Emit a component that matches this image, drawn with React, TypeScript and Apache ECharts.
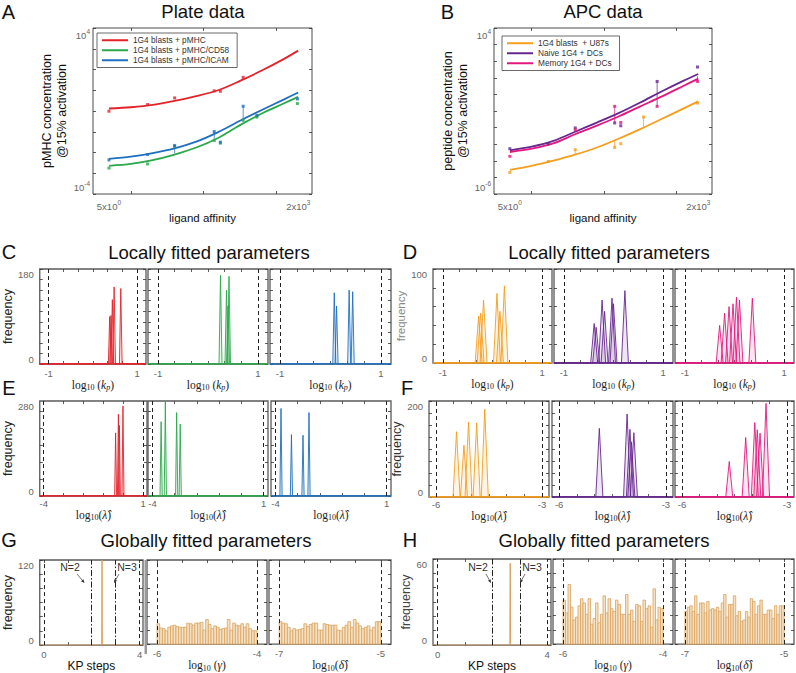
import React, { useEffect, useRef } from "react";
import * as echarts from "echarts";

const SANS = "'Liberation Sans', Arial, Helvetica, sans-serif";
const SERIF = "'Liberation Serif', 'DejaVu Serif', serif";

const RED = "#e4222a";
const GREEN = "#2aa84a";
const BLUE = "#1e6fc0";
const ORANGE = "#f59d1c";
const PURPLE = "#66278f";
const PINK = "#e3177f";
const BAR_FILL = "#f5e1c3";
const BAR_EDGE = "#dba35f";

// ---------- Panel A: plate data (ligand affinity vs log10 pMHC concentration @15% activation)
const plateRedX = [5, 17, 40, 140, 170, 350];
const plateRedY = [-0.01, 0.31, 0.63, 0.97, 0.95, 1.62];
const plateGreenX = [5, 17, 40, 140, 170, 350, 540, 1950];
const plateGreenY = [-2.75, -2.55, -1.71, -1.42, -1.55, -0.45, -0.29, 0.36];
const plateBlueX = [5, 17, 40, 140, 170, 350, 540, 1950];
const plateBlueY = [-2.36, -2.1, -1.66, -0.99, -1.5, 0.23, -0.21, 0.58];
// fitted curves, read at log10(affinity) = 0.7, 1.0, ... 3.3
const fitLogX = [0.7, 1.0, 1.3, 1.6, 1.9, 2.2, 2.5, 2.8, 3.1, 3.3];
const plateRedFit = [0.12, 0.18, 0.29, 0.49, 0.72, 1.0, 1.45, 1.95, 2.5, 2.91];
const plateGreenFit = [-2.64, -2.55, -2.37, -2.1, -1.76, -1.3, -0.68, -0.12, 0.36, 0.68];
const plateBlueFit = [-2.31, -2.2, -2.03, -1.8, -1.48, -1.02, -0.47, 0.05, 0.55, 0.89];
const plateBlueErr = [[40, -2.05, -1.66], [140, -1.35, -0.99], [350, -0.45, 0.23], [540, -0.35, -0.21]];
const plateNames = ["1G4 blasts + pMHC", "1G4 blasts + pMHC/CD58", "1G4 blasts + pMHC/ICAM"];

// ---------- Panel B: APC data (log10 peptide concentration)
const apcOrangeX = [5, 17, 40, 140, 170, 350, 1950];
const apcOrangeY = [-4.7, -4.04, -3.33, -3.19, -2.97, -1.36, -0.52];
const apcPurpleX = [5, 17, 40, 140, 170, 540, 1950];
const apcPurpleY = [-3.27, -2.97, -2.02, -1.72, -1.89, 0.78, 1.65];
const apcPinkX = [5, 40, 140, 170, 540, 1950];
const apcPinkY = [-3.73, -2.13, -0.72, -1.69, -0.72, 0.78];
const apcOrangeFit = [-4.54, -4.3, -3.99, -3.63, -3.2, -2.67, -2.09, -1.47, -0.84, -0.42];
const apcPurpleFit = [-3.37, -3.15, -2.8, -2.25, -1.7, -1.13, -0.49, 0.19, 0.83, 1.23];
const apcPinkFit = [-3.47, -3.27, -2.95, -2.4, -1.88, -1.33, -0.72, -0.12, 0.52, 0.95];
const apcOrangeErr = [[40, -3.6, -3.33], [140, -3.19, -2.75], [350, -2.0, -1.36]];
const apcPurpleErr = [[540, -0.72, 0.78]];
const apcPinkErr = [[140, -1.72, -0.72], [1950, 0.78, 1.1]];
const apcNames = ["1G4 blasts  + U87s", "Naive 1G4 + DCs", "Memory 1G4 + DCs"];

// ---------- Histogram peaks [centre, frequency]
const cRed = [[0.38, 90], [0.41, 92], [0.44, 122], [0.48, 146], [0.63, 143]];
const cGreen = [[0.25, 168], [0.37, 140], [0.4, 110], [0.42, 166]];
const cBlue = [[0.075, 135], [0.12, 110], [0.37, 140], [0.44, 137]];
const dOrange = [[-0.28, 50], [-0.24, 53], [-0.18, 67], [0.09, 74], [0.15, 55], [0.24, 82]];
const dPurple = [[-0.39, 42], [-0.35, 38], [-0.23, 67], [-0.18, 55], [-0.03, 69], [0.0, 63], [0.23, 77]];
const dPink = [[-0.3, 40], [-0.2, 53], [-0.11, 60], [-0.03, 63], [0.04, 70], [0.1, 67], [0.36, 69]];
const eRed = [[-0.38, 186], [-0.24, 241], [-0.19, 208], [-0.01, 265]];
const eGreen = [[-3.61, 219], [-3.42, 278], [-2.91, 246], [-2.75, 212]];
const eBlue = [[-3.75, 258], [-3.28, 181], [-2.76, 179], [-2.49, 246]];
const fOrange = [[-5.42, 136], [-5.21, 108], [-5.08, 156], [-4.85, 154], [-4.62, 183]];
const fPurple = [[-4.87, 143], [-4.09, 173], [-4.01, 141], [-3.97, 115], [-3.9, 134]];
const fPink = [[-4.65, 74], [-4.18, 124], [-3.92, 155], [-3.85, 140], [-3.77, 133], [-3.6, 195]];
const gKp = [[2.43, 120]];
const hKp = [[2.65, 57]];

// ---------- Global parameter histograms (bin heights, evenly spaced over the prior range)
const gGamma = [29, 23, 22, 19, 24, 26, 27, 25, 24, 24, 24, 30, 29, 27, 30, 30, 31, 20, 35, 28, 22, 26, 24, 21, 22, 23, 35, 20, 30, 27, 26, 29, 24, 29, 22, 19, 19];
const gDelta = [32, 30, 29, 24, 19, 22, 20, 21, 22, 29, 25, 28, 30, 30, 20, 20, 29, 28, 27, 27, 27, 20, 19, 24, 27, 32, 24, 35, 30, 26, 22, 24, 26, 20, 24, 32, 32];
const hGamma = [31, 22, 42, 26, 17, 19, 27, 32, 29, 21, 32, 14, 18, 29, 15, 21, 34, 22, 32, 25, 23, 31, 28, 21, 21, 35, 21, 24, 16, 28, 27, 16, 31, 25, 27, 12, 39, 17, 26, 25];
const hDelta = [23, 26, 27, 23, 34, 21, 29, 29, 22, 30, 24, 25, 24, 26, 23, 29, 35, 19, 28, 28, 34, 20, 23, 16, 17, 23, 19, 32, 30, 21, 27, 31, 21, 21, 24, 24, 18, 27, 21, 27, 27];

// ---------- Layout (px boxes: left, top, width, height)
const BOX: any = {
  A: [93, 28, 219, 166],
  B: [494, 28, 218, 166],
  C: [[26, 269, 120, 95], [148, 269, 120, 95], [270, 269, 121, 95]],
  D: [[433, 269, 119, 94], [554, 269, 119, 94], [675, 269, 119, 94]],
  E: [[26, 401, 121, 95], [148, 401, 120, 95], [271, 401, 120, 95]],
  F: [[429, 401, 120, 96], [552, 401, 121, 96], [675, 401, 119, 96]],
  G: [[26, 560, 117, 94], [147, 560, 120, 94], [269, 560, 122, 94]],
  H: [[433, 559, 118, 95], [553, 559, 120, 95], [675, 559, 119, 95]],
};

function rgba(hex: string, a: number) {
  const n = parseInt(hex.slice(1), 16);
  return `rgba(${(n >> 16) & 255},${(n >> 8) & 255},${n & 255},${a})`;
}

const richPow = {
  b: { fontSize: 9.5, color: "#666", fontFamily: SANS },
  s: { fontSize: 6.5, color: "#666", fontFamily: SANS, padding: [0, 0, 7, 0] },
};
const richMath = {
  t: { fontFamily: SERIF, fontSize: 11.5, color: "#222" },
  s: { fontFamily: SERIF, fontSize: 8, color: "#222", padding: [6, 0, 0, 0] },
  i: { fontFamily: SERIF, fontStyle: "italic", fontSize: 11.5, color: "#222" },
  is: { fontFamily: SERIF, fontStyle: "italic", fontSize: 8, color: "#222", padding: [6, 0, 0, 0] },
};
const KP_NAME = "{t|log}{s|10}{t| (}{i|k}{is|p}{t|)}";
const LAM_NAME = "{t|log}{s|10}{t|(}{i|λ̂}{t|)}";
const GAM_NAME = "{t|log}{s|10}{t| (}{i|γ}{t|)}";
const DEL_NAME = "{t|log}{s|10}{t|(}{i|δ̂}{t|)}";

function makeAxis(gi: number, s: any, position: string, main: boolean) {
  const a: any = {
    type: "value",
    gridIndex: gi,
    position,
    min: s.min,
    max: s.max,
    axisLine: { show: false, onZero: false },
    splitLine: { show: false },
    axisTick: { show: true, inside: true, length: 3, customValues: s.ticks, lineStyle: { color: "#333", width: 0.8 } },
    axisLabel: { show: false },
  };
  if (main) {
    if (s.labels)
      a.axisLabel = {
        show: true,
        customValues: s.labels,
        formatter: s.fmt || ((v: number) => String(v)),
        margin: s.margin ?? 4,
        color: "#666",
        fontSize: 9.5,
        fontFamily: SANS,
        rich: s.rich,
        showMinLabel: true,
        showMaxLabel: true,
        hideOverlap: false,
        verticalAlignMinLabel: s.vMin,
        verticalAlignMaxLabel: s.vMax,
      };
    if (s.name) {
      a.name = s.name;
      a.nameLocation = "middle";
      a.nameGap = s.nameGap;
      a.nameTextStyle = s.nameStyle;
    }
  }
  return a;
}

function addPanel(o: any, box: number[], xs: any, ys: any, border?: any) {
  const gi = o.grid.length;
  o.grid.push({
    left: box[0], top: box[1], width: box[2], height: box[3], show: true,
    borderColor: border?.color ?? "#4a4a4a", borderWidth: border?.width ?? 1,
    backgroundColor: "rgba(0,0,0,0)",
  });
  const xi = o.xAxis.length;
  o.xAxis.push(makeAxis(gi, xs, "bottom", true), makeAxis(gi, xs, "top", false));
  const yi = o.yAxis.length;
  o.yAxis.push(makeAxis(gi, ys, "left", true), makeAxis(gi, ys, "right", false));
  return { xAxisIndex: xi, yAxisIndex: yi };
}

function logPairs(xs: number[], ys: number[]) {
  return xs.map((x, i) => [Math.log10(x), ys[i]]);
}
function pairs(xs: number[], ys: number[]) {
  return xs.map((x, i) => [x, ys[i]]);
}

function peakSeries(ax: any, peaks: number[][], hw: number, color: string, range: number[]) {
  return peaks.map(([c, h]) => ({
    type: "line", ...ax, silent: true, symbol: "none", showSymbol: false,
    data: [[range[0], 0], [c - hw, 0], [c, h], [c + hw, 0], [range[1], 0]],
    lineStyle: { color, width: 0.9 },
    areaStyle: { color: rgba(color, 0.16) },
    z: 3,
  }));
}

function guideSeries(ax: any, range: number[], xs: number[], dash: number[]) {
  return {
    type: "line", ...ax, silent: true, symbol: "none",
    data: [[range[0], 0], [range[1], 0]],
    lineStyle: { opacity: 0 },
    markLine: {
      silent: true, symbol: ["none", "none"], label: { show: false },
      lineStyle: { color: "#222", width: 1, type: dash },
      data: xs.map((x) => ({ xAxis: x })),
    },
    z: 4,
  };
}

function barSeries(ax: any, heights: number[], lo: number, hi: number) {
  const w = (hi - lo) / heights.length;
  return {
    type: "custom", ...ax, silent: true,
    data: heights.map((h, i) => [lo + i * w, lo + (i + 1) * w, h]),
    encode: { x: [0, 1], y: 2 },
    renderItem: (_p: any, api: any) => {
      const p0 = api.coord([api.value(0), 0]);
      const p1 = api.coord([api.value(1), api.value(2)]);
      return {
        type: "rect",
        shape: { x: p0[0], y: p1[1], width: p1[0] - p0[0], height: p0[1] - p1[1] },
        style: { fill: BAR_FILL, stroke: BAR_EDGE, lineWidth: 0.8 },
      };
    },
    z: 3,
  };
}

function errSeries(ax: any, rows: number[][], color: string) {
  return {
    type: "custom", ...ax, silent: true,
    data: rows.map(([x, lo, hi]) => [Math.log10(x), lo, hi]),
    encode: { x: 0, y: [1, 2] },
    renderItem: (_p: any, api: any) => {
      const a = api.coord([api.value(0), api.value(1)]);
      const b = api.coord([api.value(0), api.value(2)]);
      return { type: "line", shape: { x1: a[0], y1: a[1], x2: b[0], y2: b[1] }, style: { stroke: color, lineWidth: 0.9, opacity: 0.8 } };
    },
    z: 4,
  };
}

function range(a: number, b: number, step: number) {
  const out: number[] = [];
  for (let v = a; v <= b + 1e-9; v += step) out.push(+v.toFixed(6));
  return out;
}

function arrow(x1: number, y1: number, x2: number, y2: number) {
  const dx = x2 - x1, dy = y2 - y1;
  const len = Math.hypot(dx, dy);
  const ux = dx / len, uy = dy / len;
  const bx = x2 - ux * 3.5, by = y2 - uy * 3.5;
  return [
    { type: "line", silent: true, shape: { x1, y1, x2: bx, y2: by }, style: { stroke: "#333", lineWidth: 0.7 } },
    { type: "polygon", silent: true, shape: { points: [[x2, y2], [bx - uy * 1.6, by + ux * 1.6], [bx + uy * 1.6, by - ux * 1.6]] }, style: { fill: "#333" } },
  ];
}

function T(text: string, x: number, y: number, size: number, extra: any = {}) {
  return {
    type: "text", x, y, silent: true,
    style: { text, fontSize: size, fontFamily: SANS, fill: "#111", align: "center", verticalAlign: "middle", ...extra },
  };
}

function buildOption() {
  const o: any = { grid: [], xAxis: [], yAxis: [], series: [] };
  const powFmt = (v: number) => {
    const e = Math.floor(v + 1e-9);
    const m = Math.round(Math.pow(10, v - e));
    return m === 1 ? `{b|10}{s|${e}}` : `{b|${m}x10}{s|${e}}`;
  };
  const affX = {
    min: 0.48, max: 3.49, ticks: [1, 2, 3], labels: [Math.log10(5), Math.log10(2000)],
    fmt: powFmt, rich: richPow, margin: 5,
    name: "ligand affinity", nameGap: 8,
    nameStyle: { fontSize: 11.5, color: "#111", fontFamily: SANS, verticalAlign: "top" },
  };

  // ---- Panel A
  const axA = addPanel(o, BOX.A, affX, {
    min: -4, max: 4, ticks: range(-4, 4, 1), labels: [-4, 4], fmt: powFmt, rich: richPow, margin: 3,
    vMin: "bottom", vMax: "top",
    name: "pMHC concentration\n@15% activation", nameGap: 7,
    nameStyle: { fontSize: 12.5, lineHeight: 15, color: "#111", fontFamily: SANS },
  });
  const plate = [
    [plateRedX, plateRedY, plateRedFit, RED],
    [plateGreenX, plateGreenY, plateGreenFit, GREEN],
    [plateBlueX, plateBlueY, plateBlueFit, BLUE],
  ];
  plate.forEach(([xs, ys, fit, col]: any, i) => {
    o.series.push({
      name: plateNames[i], type: "line", ...axA, smooth: 0.3, symbol: "none",
      data: pairs(fitLogX, fit), lineStyle: { color: col, width: 1.8 }, itemStyle: { color: col }, z: 5,
    });
    o.series.push({
      type: "scatter", ...axA, symbol: "rect", symbolSize: 3, data: logPairs(xs, ys), itemStyle: { color: col }, z: 6, silent: true,
    });
  });
  o.series.push(errSeries(axA, plateBlueErr, BLUE));

  // ---- Panel B
  const axB = addPanel(o, BOX.B, affX, {
    min: -6, max: 4, ticks: range(-6, 4, 1), labels: [-6, 4], fmt: powFmt, rich: richPow, margin: 3,
    vMin: "bottom", vMax: "top",
    name: "peptide concentration\n@15% activation", nameGap: 6,
    nameStyle: { fontSize: 12.5, lineHeight: 15, color: "#111", fontFamily: SANS },
  });
  const apc = [
    [apcOrangeX, apcOrangeY, apcOrangeFit, ORANGE, apcOrangeErr],
    [apcPurpleX, apcPurpleY, apcPurpleFit, PURPLE, apcPurpleErr],
    [apcPinkX, apcPinkY, apcPinkFit, PINK, apcPinkErr],
  ];
  apc.forEach(([xs, ys, fit, col, err]: any, i) => {
    o.series.push({
      name: apcNames[i], type: "line", ...axB, smooth: 0.3, symbol: "none",
      data: pairs(fitLogX, fit), lineStyle: { color: col, width: 1.8 }, itemStyle: { color: col }, z: 5,
    });
    o.series.push({
      type: "scatter", ...axB, symbol: "rect", symbolSize: 3, data: logPairs(xs, ys), itemStyle: { color: col }, z: 6, silent: true,
    });
    o.series.push(errSeries(axB, err, col));
  });

  // ---- Local parameter histograms (C, D, E, F)
  const rows = [
    { boxes: BOX.C, xr: [-1.2, 1.2], xt: [-1, -2 / 3, -1 / 3, 0, 1 / 3, 2 / 3, 1], xl: [-1, 1], xn: KP_NAME,
      ymax: 180, yt: range(0, 180, 20), guides: [-1, 1], traces: [cRed, cGreen, cBlue], cols: [RED, GREEN, BLUE],
      hw: 0.03, yc: "#222", ys: 12.5, yg: 6, xm: 4, xg: 3 },
    { boxes: BOX.D, xr: [-1.2, 1.2], xt: [-1, -2 / 3, -1 / 3, 0, 1 / 3, 2 / 3, 1], xl: [-1, 1], xn: KP_NAME,
      ymax: 100, yt: range(0, 100, 20), guides: [-1, 1], traces: [dOrange, dPurple, dPink], cols: [ORANGE, PURPLE, PINK],
      hw: 0.07, yc: "#888", ys: 11.5, yg: 4, xm: 4, xg: 3 },
    { boxes: BOX.E, xr: [-4.2, 1.2], xt: range(-4, 1, 1), xl: [-4, 1], xn: LAM_NAME,
      ymax: 280, yt: range(0, 250, 50), guides: [-4, 1], traces: [eRed, eGreen, eBlue], cols: [RED, GREEN, BLUE],
      hw: 0.05, yc: "#222", ys: 12.5, yg: 6, xm: 2, xg: 3 },
    { boxes: BOX.F, xr: [-6.2, -2.8], xt: range(-6, -3, 0.5), xl: [-6, -3], xn: LAM_NAME,
      ymax: 200, yt: range(0, 200, 25), guides: [-6, -3], traces: [fOrange, fPurple, fPink], cols: [ORANGE, PURPLE, PINK],
      hw: 0.1, yc: "#333", ys: 12.5, yg: 8, xm: 2, xg: 3 },
  ];
  rows.forEach((r) => {
    r.boxes.forEach((box: number[], k: number) => {
      const ax = addPanel(
        o, box,
        { min: r.xr[0], max: r.xr[1], ticks: r.xt, labels: r.xl, margin: r.xm, name: r.xn, nameGap: r.xg,
          nameStyle: { rich: richMath, verticalAlign: "top" } },
        { min: 0, max: r.ymax, ticks: r.yt, labels: k === 0 ? [0, r.ymax] : null, margin: 6, vMin: "bottom", vMax: "top",
          name: k === 0 ? "frequency" : null, nameGap: r.yg,
          nameStyle: { fontSize: r.ys, color: r.yc, fontFamily: SANS } },
        { color: "#5a5a5a", width: 1.3 }
      );
      o.series.push(...peakSeries(ax, r.traces[k], r.hw, r.cols[k], r.xr));
      o.series.push(guideSeries(ax, r.xr, r.guides, [4, 3]));
    });
  });

  // ---- Global parameter histograms (G, H)
  const glob = [
    { boxes: BOX.G, ymax: 120, yt: range(0, 120, 20), spike: gKp, gam: gGamma, del: gDelta, yc: "#222", yg: 6 },
    { boxes: BOX.H, ymax: 60, yt: range(0, 60, 10), spike: hKp, gam: hGamma, del: hDelta, yc: "#444", yg: 4 },
  ];
  glob.forEach((g) => {
    const yBase = (k: number) => ({
      min: 0, max: g.ymax, ticks: g.yt, labels: k === 0 ? [0, g.ymax] : null, margin: 6, vMin: "bottom", vMax: "top",
      name: k === 0 ? "frequency" : null, nameGap: g.yg, nameStyle: { fontSize: 12.5, color: g.yc, fontFamily: SANS },
    });
    const border = { color: "#5a5a5a", width: 1.3 };
    const kpRange = [-0.17, 4.14];
    const ax1 = addPanel(o, g.boxes[0],
      { min: kpRange[0], max: kpRange[1], ticks: [0, 1, 2, 3, 4], labels: [0, 4], margin: 4, name: "KP steps", nameGap: 4,
        nameStyle: { fontSize: 12, color: "#111", fontFamily: SANS, verticalAlign: "top" } },
      yBase(0), border);
    o.series.push(...peakSeries(ax1, g.spike, 0.015, "#d79a52", kpRange));
    o.series.push(guideSeries(ax1, kpRange, [0, 4], [4, 3]));
    o.series.push(guideSeries(ax1, kpRange, [2, 3], [6, 2, 1.5, 2]));

    const r2 = [-6.2, -3.8];
    const ax2 = addPanel(o, g.boxes[1],
      { min: r2[0], max: r2[1], ticks: range(-6, -4, 0.5), labels: [-6, -4], margin: 4, name: GAM_NAME, nameGap: 3,
        nameStyle: { rich: richMath, verticalAlign: "top" } },
      yBase(1), border);
    o.series.push(barSeries(ax2, g.gam, -6, -4));
    o.series.push(guideSeries(ax2, r2, [-6, -4], [4, 3]));

    const r3 = [-7.2, -4.8];
    const ax3 = addPanel(o, g.boxes[2],
      { min: r3[0], max: r3[1], ticks: range(-7, -5, 0.5), labels: [-7, -5], margin: 4, name: DEL_NAME, nameGap: 3,
        nameStyle: { rich: richMath, verticalAlign: "top" } },
      yBase(2), border);
    o.series.push(barSeries(ax3, g.del, -7, -5));
    o.series.push(guideSeries(ax3, r3, [-7, -5], [4, 3]));
  });

  const legendBase = {
    orient: "vertical", icon: "rect", itemWidth: 26, itemHeight: 2, itemGap: 1.5,
    borderColor: "#444", borderWidth: 0.8, backgroundColor: "#fff", selectedMode: false,
    textStyle: { fontSize: 8.3, lineHeight: 8.5, color: "#333", fontFamily: SANS },
  };
  o.legend = [
    { ...legendBase, left: 97, top: 33, padding: [3, 8, 3, 5], data: plateNames },
    { ...legendBase, left: 502, top: 36, padding: [3, 8, 3, 5], data: apcNames },
  ];

  o.graphic = [
    T("A", 8.5, 11.5, 20), T("Plate data", 203, 11, 18.5),
    T("B", 447.5, 11.5, 20), T("APC data", 603, 11, 18.5),
    T("C", 9, 252, 20), T("Locally fitted parameters", 209, 252, 18.5),
    T("D", 410, 252, 20), T("Locally fitted parameters", 609, 252, 18.5),
    T("E", 9, 388, 20), T("F", 407, 388, 20),
    T("G", 9, 540, 20), T("Globally fitted parameters", 206, 540, 18.5),
    T("H", 410, 540, 20), T("Globally fitted parameters", 604, 540, 18.5),
    T("N=2", 70, 567, 10.5, { fill: "#333" }), T("N=3", 127, 567, 10.5, { fill: "#333" }),
    T("N=2", 478, 567, 10.5, { fill: "#333" }), T("N=3", 532, 567, 10.5, { fill: "#333" }),
    ...arrow(77, 574, 84.5, 583),
    ...arrow(119, 574, 114, 583),
    ...arrow(486, 574, 491, 583),
    ...arrow(525, 574, 520, 583),
    { type: "rect", silent: true, shape: { x: 144.5, y: 560, width: 2.5, height: 94 }, style: { fill: "#9a9a9a" } },
  ];

  return {
    animation: false,
    backgroundColor: "#fff",
    textStyle: { fontFamily: SANS },
    ...o,
  };
}

export default function App() {
  const ref = useRef<HTMLDivElement>(null);
  useEffect(() => {
    if (!ref.current) return;
    const chart = echarts.init(ref.current, null, { renderer: "svg" });
    chart.setOption(buildOption());
    return () => chart.dispose();
  }, []);
  return <div ref={ref} style={{ position: "absolute", left: 0, top: 0, width: 796, height: 673 }} />;
}
